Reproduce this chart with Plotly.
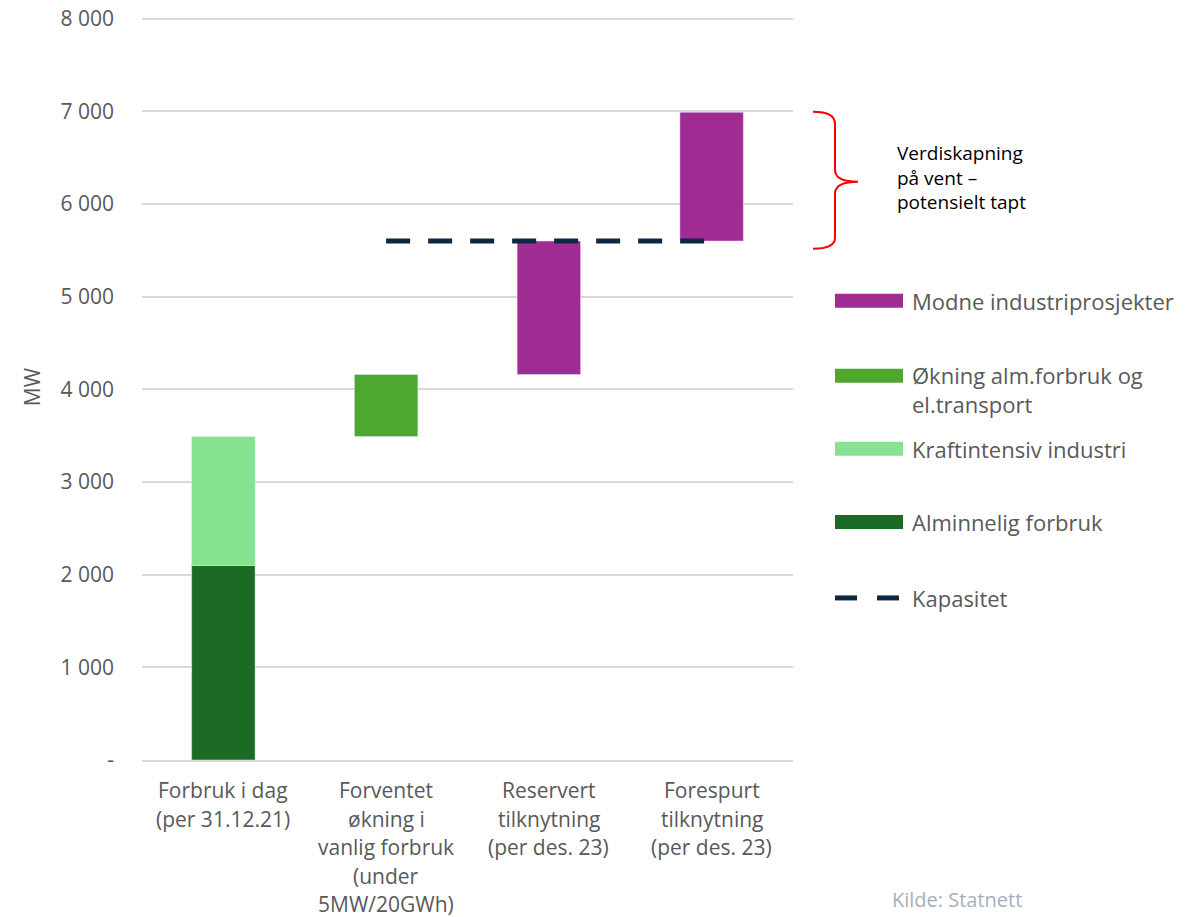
import plotly.graph_objects as go

category_lines = [["Forbruk i dag", "(per 31.12.21)"],
                  ["Forventet", "økning i", "vanlig forbruk", "(under", "5MW/20GWh)"],
                  ["Reservert", "tilknytning", "(per des. 23)"],
                  ["Forespurt", "tilknytning", "(per des. 23)"]]
categories = [" ".join(c) for c in category_lines]

alminnelig = [2100, None, None, None]
kraftintensiv = [1390, None, None, None]
okning = [None, 670, None, None]
modne = [None, None, 1440, 1390]
bases_kraft = [2100, None, None, None]
bases_okning = [None, 3490, None, None]
bases_modne = [None, None, 4160, 5600]
kapasitet_x = [categories[1], categories[2], categories[3]]
kapasitet_y = [5600, 5600, 5600]

ytick_vals = [0, 1000, 2000, 3000, 4000, 5000, 6000, 7000, 8000]
ytick_text = ["-", "1 000", "2 000", "3 000", "4 000", "5 000", "6 000", "7 000", "8 000"]

C_PURPLE = "#A02B93"
C_GREEN = "#4EA72E"
C_LIGHT = "#84E291"
C_DARK = "#1B6B24"
C_DASH = "#0E2841"
FONT = "Open Sans"
GREY = "#595959"

W, H = 1198, 917
YMAX = 8050
L, R, B = 142, 793, 760          # plot area in screen pixels
Y8000 = 19                        # pixel row of the 8 000 gridline
T = B - (B - Y8000) * YMAX / 8000  # top of plot area

def px(x):
    return (x - L) / (R - L)

def py(y):
    return (B - y) / (B - T)

fig = go.Figure()
bw = 0.39
fig.add_bar(x=categories, y=alminnelig, marker_color=C_DARK, width=bw, name="Alminnelig forbruk")
fig.add_bar(x=categories, y=kraftintensiv, base=bases_kraft, marker_color=C_LIGHT, width=bw, name="Kraftintensiv industri")
fig.add_bar(x=categories, y=okning, base=bases_okning, marker_color=C_GREEN, width=bw, name="Økning")
fig.add_bar(x=categories, y=modne, base=bases_modne, marker_color=C_PURPLE, width=bw, name="Modne")
fig.add_scatter(x=kapasitet_x, y=kapasitet_y, mode="lines",
                line=dict(color=C_DASH, width=5, dash="24px,18px"), name="Kapasitet")

shapes = []
annotations = []

# category labels (one annotation per line for Excel-like line spacing)
for cat, lines in zip(categories, category_lines):
    for i, ln in enumerate(lines):
        annotations.append(dict(xref="x", yref="paper", x=cat, y=py(790 + 28.5 * i), text=ln,
                                showarrow=False, xanchor="center", yanchor="middle",
                                font=dict(family=FONT, size=21, color=GREY)))

# custom legend
legend_items = [
    (301, C_PURPLE, "Modne industriprosjekter", 301),
    (376, C_GREEN, "Økning alm.forbruk og<br>el.transport", 390),
    (449, C_LIGHT, "Kraftintensiv industri", 449),
    (522, C_DARK, "Alminnelig forbruk", 522),
]
for yc, col, txt, ty in legend_items:
    shapes.append(dict(type="rect", xref="paper", yref="paper",
                       x0=px(835), x1=px(903), y0=py(yc + 7), y1=py(yc - 7),
                       fillcolor=col, line=dict(width=0)))
    annotations.append(dict(xref="paper", yref="paper", x=px(910), y=py(ty), text=txt,
                            showarrow=False, xanchor="left", yanchor="middle", align="left",
                            font=dict(family=FONT, size=22, color=GREY)))
for x0, x1 in [(835, 857), (877, 899)]:
    shapes.append(dict(type="line", xref="paper", yref="paper",
                       x0=px(x0), x1=px(x1), y0=py(598), y1=py(598),
                       line=dict(color=C_DASH, width=5)))
annotations.append(dict(xref="paper", yref="paper", x=px(910), y=py(598), text="Kapasitet",
                        showarrow=False, xanchor="left", yanchor="middle",
                        font=dict(family=FONT, size=22, color=GREY)))

# red curly bracket
pts = [(813, 112), (835, 112), (835, 124), (835, 170), (835, 182), (858, 182),
       (835, 182), (835, 194), (835, 238), (835, 249), (813, 249)]
def P(p):
    return f"{px(p[0]):.5f},{py(p[1]):.5f}"
path = (f"M {P(pts[0])} Q {P(pts[1])} {P(pts[2])} L {P(pts[3])} Q {P(pts[4])} {P(pts[5])} "
        f"M {P(pts[5])} Q {P(pts[6])} {P(pts[7])} L {P(pts[8])} Q {P(pts[9])} {P(pts[10])}")
shapes.append(dict(type="path", xref="paper", yref="paper", path=path,
                   line=dict(color="#FF0000", width=2)))
annotations.append(dict(xref="paper", yref="paper", x=px(895), y=py(178),
                        text="Verdiskapning<br>på vent –<br>potensielt tapt",
                        showarrow=False, xanchor="left", yanchor="middle", align="left",
                        font=dict(family=FONT, size=19, color="#000000")))

# source
annotations.append(dict(xref="paper", yref="paper", x=px(890), y=py(915), text="Kilde: Statnett",
                        showarrow=False, xanchor="left", yanchor="bottom",
                        font=dict(family=FONT, size=20, color="#A6B0BC")))

fig.update_layout(
    width=W, height=H,
    margin=dict(l=L, r=W - R, t=T, b=H - B, pad=0, autoexpand=False),
    paper_bgcolor="white", plot_bgcolor="white",
    barmode="overlay", showlegend=False,
    font=dict(family=FONT, color=GREY),
    shapes=shapes, annotations=annotations,
)
fig.update_yaxes(range=[0, YMAX], tickvals=ytick_vals, ticktext=ytick_text,
                 showgrid=True, gridcolor="#D9D9D9", gridwidth=1.5, zeroline=False,
                 ticks="", ticklabelstandoff=27, ticklabeloverflow="allow",
                 tickfont=dict(family=FONT, size=21, color=GREY),
                 title=dict(text="MW", font=dict(family=FONT, size=21, color=GREY), standoff=14),
                 showline=False)
fig.update_xaxes(showline=True, linecolor="#D9D9D9", linewidth=1.5,
                 showticklabels=False, ticks="", showgrid=False)

fig.write_html("out.html", config={"displayModeBar": False},
               post_script="document.body.style.margin='0';document.body.style.overflow='hidden';")
